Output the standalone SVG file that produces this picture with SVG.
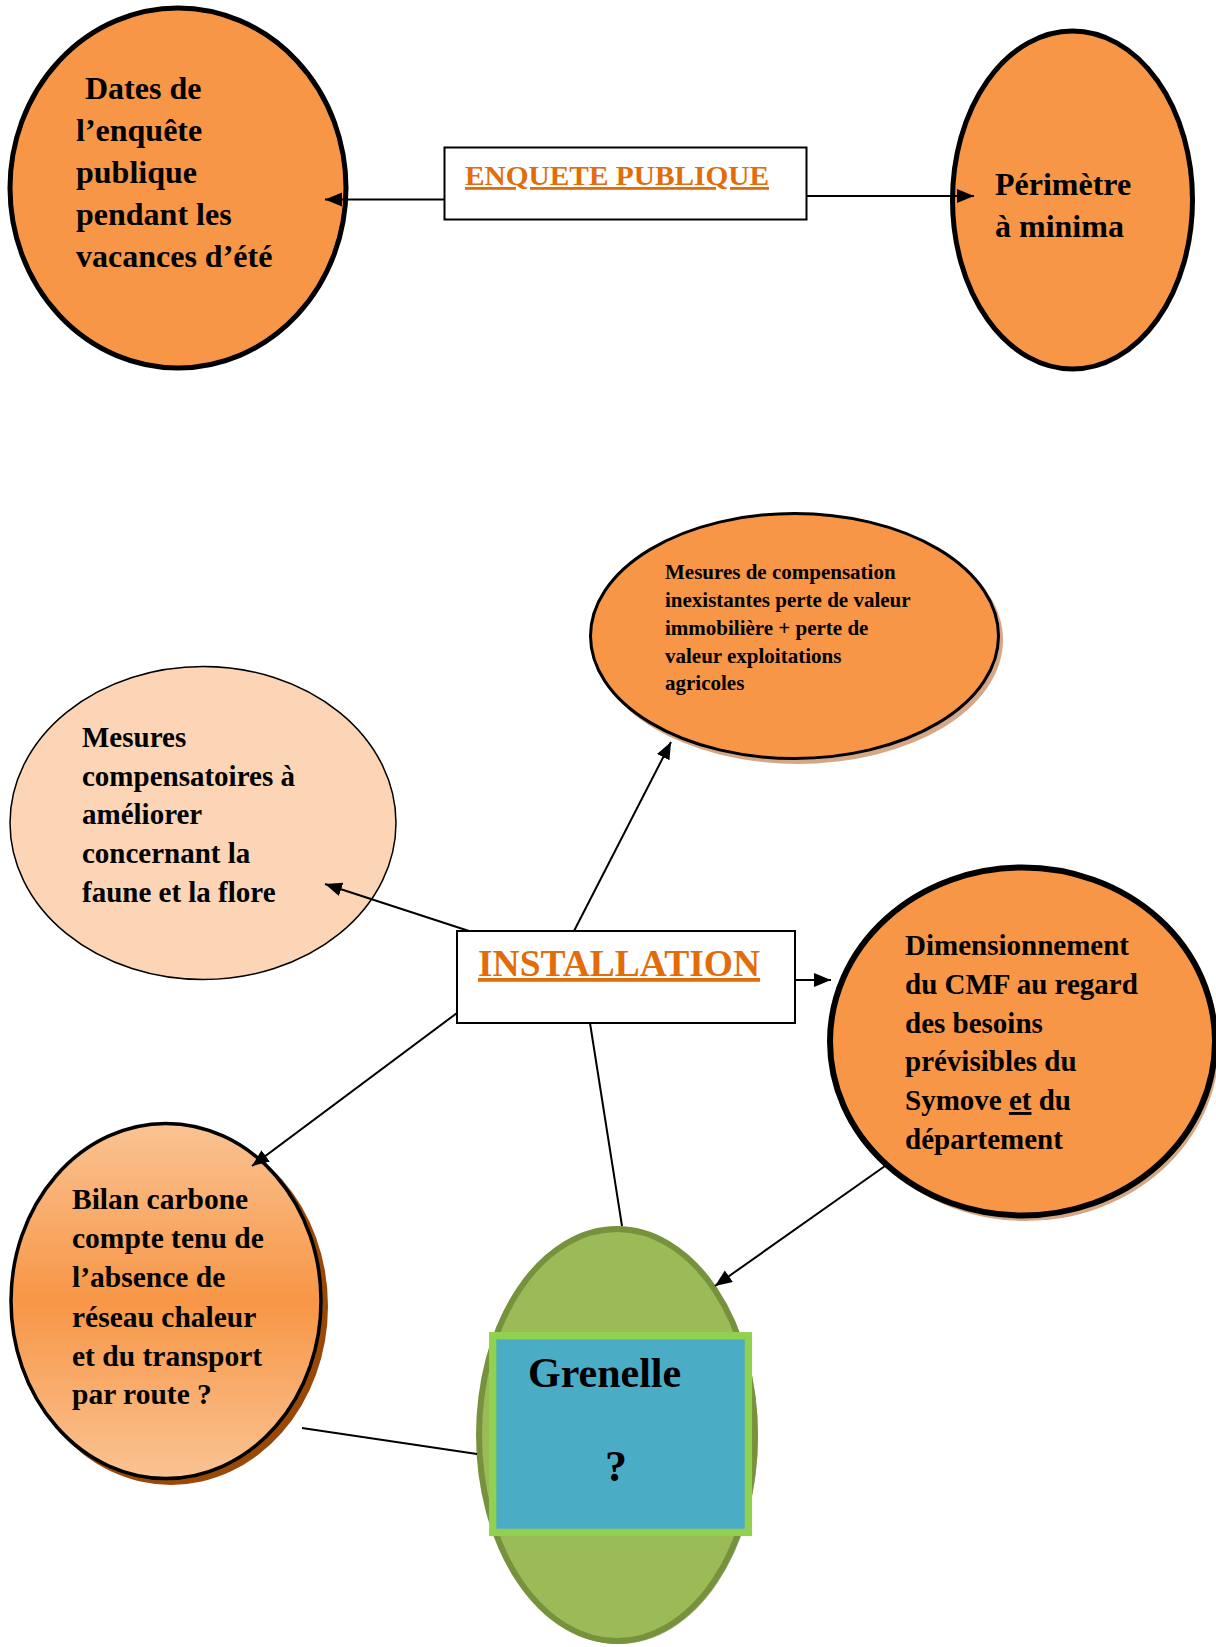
<svg xmlns="http://www.w3.org/2000/svg" width="1216" height="1647" viewBox="0 0 1216 1647">
<style>
  .t { font-family: "Liberation Serif", "Times New Roman", serif; font-weight: bold; fill: #000; }
  .title { font-family: "Liberation Serif", "Times New Roman", serif; font-weight: bold; fill: #E36C0A; text-decoration: underline; }
  .orange { fill: #F79646; stroke: #000; }
  .conn { stroke: #000; stroke-width: 2; fill: none; }
  .box { fill: #fff; stroke: #000; stroke-width: 2; }
</style>
<defs>
  <marker id="arr" markerUnits="userSpaceOnUse" markerWidth="18" markerHeight="15" refX="17" refY="7" orient="auto">
    <path d="M0,0 L17,7 L0,14 z" fill="#000"/>
  </marker>
  <linearGradient id="bilanGrad" x1="0" y1="0" x2="0" y2="1">
    <stop offset="0" stop-color="#FAC393"/>
    <stop offset="0.5" stop-color="#F79646"/>
    <stop offset="1" stop-color="#FAC393"/>
  </linearGradient>
</defs>

<g id="dates">
  <ellipse class="orange" cx="178" cy="188" rx="168" ry="180" stroke-width="5"/>
  <text class="t" font-size="32">
    <tspan x="85" y="99">Dates de</tspan>
    <tspan x="76" y="141">l’enquête</tspan>
    <tspan x="76" y="183">publique</tspan>
    <tspan x="76" y="225">pendant les</tspan>
    <tspan x="76" y="267">vacances d’été</tspan>
  </text>
</g>

<g id="enquete">
  <rect class="box" x="444.5" y="147.5" width="362" height="72"/>
  <text class="title" x="465" y="185" font-size="28" textLength="304" lengthAdjust="spacingAndGlyphs">ENQUETE PUBLIQUE</text>
</g>

<g id="perimetre">
  <ellipse class="orange" cx="1072.5" cy="200" rx="120" ry="169" stroke-width="5"/>
  <text class="t" font-size="32">
    <tspan x="995" y="195">Périmètre</tspan>
    <tspan x="995" y="237">à minima</tspan>
  </text>
</g>

<g id="compensation">
  <ellipse cx="798" cy="640" rx="205" ry="124" fill="#D4A886"/>
  <ellipse class="orange" cx="794.5" cy="636" rx="204" ry="122.5" stroke-width="3"/>
  <text class="t" font-size="21">
    <tspan x="665" y="579">Mesures de compensation</tspan>
    <tspan x="665" y="607">inexistantes perte de valeur</tspan>
    <tspan x="665" y="635">immobilière + perte de</tspan>
    <tspan x="665" y="663">valeur exploitations</tspan>
    <tspan x="665" y="690">agricoles</tspan>
  </text>
</g>

<g id="faune">
  <ellipse cx="203" cy="823" rx="193" ry="156.5" fill="#FBD5B5" stroke="#000" stroke-width="1.5"/>
  <text class="t" font-size="29">
    <tspan x="82" y="747">Mesures</tspan>
    <tspan x="82" y="786">compensatoires à</tspan>
    <tspan x="82" y="824">améliorer</tspan>
    <tspan x="82" y="863">concernant la</tspan>
    <tspan x="82" y="902">faune et la flore</tspan>
  </text>
</g>

<g id="installation">
  <rect class="box" x="457" y="931" width="338" height="92"/>
  <text class="title" x="478" y="976" font-size="37.5">INSTALLATION</text>
</g>

<g id="dimensionnement">
  <ellipse cx="1026" cy="1046" rx="193" ry="175" fill="#D4A886"/>
  <ellipse class="orange" cx="1022.5" cy="1041.5" rx="192.5" ry="174" stroke-width="6"/>
  <text class="t" font-size="29">
    <tspan x="905" y="955">Dimensionnement</tspan>
    <tspan x="905" y="994">du CMF au regard</tspan>
    <tspan x="905" y="1033">des besoins</tspan>
    <tspan x="905" y="1071">prévisibles du</tspan>
    <tspan x="905" y="1110">Symove <tspan text-decoration="underline">et</tspan> du</tspan>
    <tspan x="905" y="1149">département</tspan>
  </text>
</g>

<g id="bilan">
  <ellipse cx="171" cy="1306" rx="157" ry="179" fill="#984807"/>
  <ellipse cx="166" cy="1301" rx="155" ry="177.5" fill="url(#bilanGrad)" stroke="#000" stroke-width="3.5"/>
  <text class="t" font-size="29.5">
    <tspan x="72" y="1209">Bilan carbone</tspan>
    <tspan x="72" y="1248">compte tenu de</tspan>
    <tspan x="72" y="1287">l’absence de</tspan>
    <tspan x="72" y="1327">réseau chaleur</tspan>
    <tspan x="72" y="1366">et du transport</tspan>
    <tspan x="72" y="1404">par route ?</tspan>
  </text>
</g>

<g id="grenelle">
  <ellipse cx="619" cy="1437" rx="139" ry="207" fill="#A7A78A"/>
  <ellipse cx="617" cy="1435" rx="138" ry="206" fill="#9BBB59" stroke="#76923C" stroke-width="6"/>
  <rect x="496" y="1339" width="256" height="197" fill="#8EA3B5"/>
  <rect x="492.7" y="1335.7" width="255.7" height="196.7" fill="#4BACC6" stroke="#92D050" stroke-width="7.3"/>
  <text class="t" x="528" y="1387" font-size="42">Grenelle</text>
  <text class="t" x="605" y="1481" font-size="44">?</text>
</g>

<g id="connectors">
  <line class="conn" x1="444" y1="199.5" x2="325" y2="199.5" marker-end="url(#arr)"/>
  <line class="conn" x1="806" y1="196" x2="974" y2="196" marker-end="url(#arr)"/>
  <line class="conn" x1="574" y1="931" x2="671" y2="742" marker-end="url(#arr)"/>
  <line class="conn" x1="469" y1="931" x2="325" y2="884" marker-end="url(#arr)"/>
  <line class="conn" x1="795" y1="980" x2="831" y2="980" marker-end="url(#arr)"/>
  <line class="conn" x1="457" y1="1013" x2="252" y2="1166" marker-end="url(#arr)"/>
  <line class="conn" x1="590" y1="1023" x2="622" y2="1226"/>
  <line class="conn" x1="885" y1="1166" x2="715" y2="1286" marker-end="url(#arr)"/>
  <line class="conn" x1="302" y1="1428" x2="477" y2="1454"/>
</g>
</svg>
